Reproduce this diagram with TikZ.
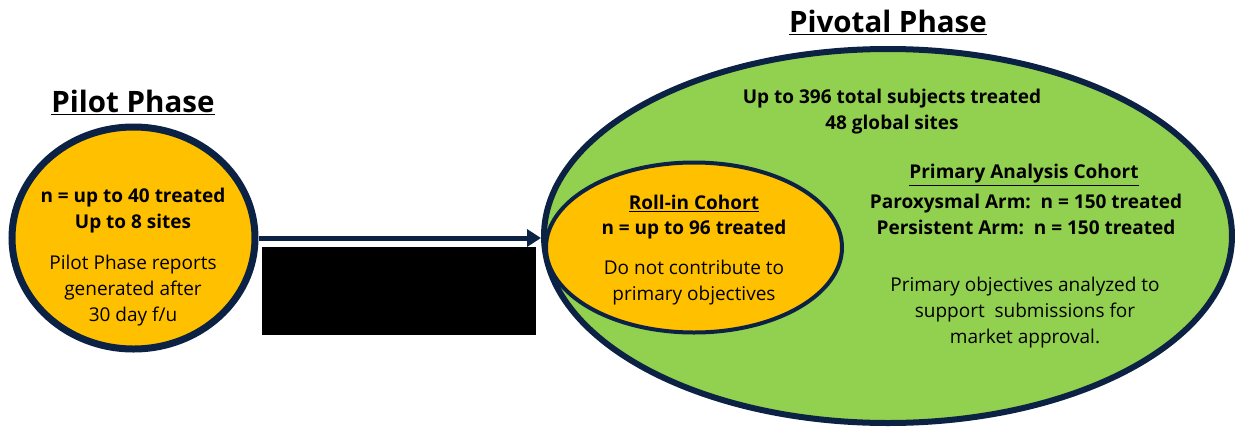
\documentclass[tikz,border=0pt]{standalone}
\usepackage{fontspec}
\setmainfont{Open Sans}
\usetikzlibrary{shapes.geometric,arrows.meta}
\definecolor{navy}{HTML}{0B2244}
\definecolor{gold}{HTML}{FFC000}
\definecolor{lgreen}{HTML}{92D050}
\begin{document}
\begin{tikzpicture}[x=1pt,y=-1pt,
  bubble/.style={ellipse,draw=navy,inner sep=0pt},
  txt/.style={font=\fontsize{19}{26}\selectfont,text=black,inner sep=0pt,align=center},
  btxt/.style={txt,font=\fontsize{19}{26}\selectfont\bfseries},
  title/.style={font=\fontsize{29.5}{34}\selectfont\bfseries,inner sep=0pt}]
\useasboundingbox (0,0) rectangle (1235,429);
% shapes
\node[bubble,fill=gold,line width=7pt,minimum width=243pt,minimum height=222pt] (pilot) at (133.5,238) {};
\node[bubble,fill=lgreen,line width=6pt,minimum width=688pt,minimum height=374pt] (pivot) at (888,236) {};
\node[bubble,fill=gold,line width=4pt,minimum width=296pt,minimum height=170pt] (rollin) at (694,247.5) {};
\node[fill=black,inner sep=0pt,minimum width=274pt,minimum height=88pt] (redact) at (399,291) {};
% arrow
\draw[navy,line width=5pt,-{Triangle[length=14pt,width=17pt]}] (pilot.east) -- (pilot.east -| pivot.west);
% titles
\node[title] (tpilot) at (133,102) {\underline{Pilot Phase}};
\node[title] (tpivot) at (888,22) {\underline{Pivotal Phase}};
% pilot text
\node[btxt] (p1) at (133,198) {n = up to 40 treated};
\node[btxt] (p2) at (133,224) {Up to 8 sites};
\node[txt] (p3) at (133,291) {Pilot Phase reports\\generated after\\30 day f/u};
% pivotal text
\node[btxt] (v1) at (892,112) {Up to 396 total subjects treated\\48 global sites};
\node[btxt] (r1) at (694,203) {\underline{Roll-in Cohort}};
\node[btxt] (r2) at (694,230) {n = up to 96 treated};
\node[txt] (r3) at (694,283) {Do not contribute to\\primary objectives};
\node[btxt] (a1) at (1024,175) {\underline{Primary Analysis Cohort}};
\node[btxt] (a2) at (1026,214.5) {Paroxysmal Arm:\ \ n = 150 treated\\Persistent Arm:\ \ n = 150 treated};
\node[txt] (a3) at (1025,312.5) {Primary objectives analyzed to\\support\ \ submissions for\\market approval.};
\end{tikzpicture}
\end{document}
